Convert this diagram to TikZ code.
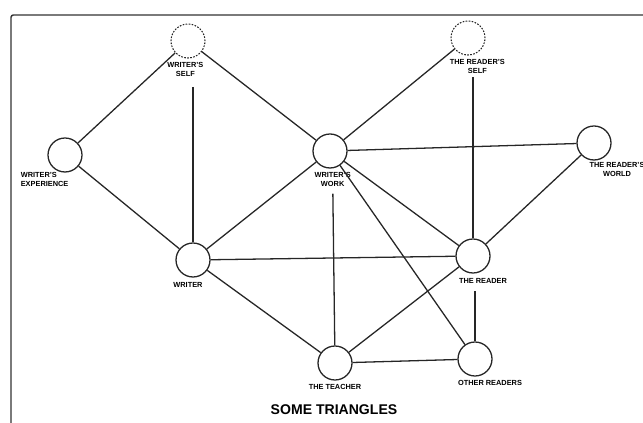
\documentclass[tikz,border=0pt]{standalone}
\usepackage{fontspec}
\setsansfont{Liberation Sans}
\usetikzlibrary{positioning}

\begin{document}
\begin{tikzpicture}[
  x=0.3mm, y=-0.3mm,
  font=\sffamily,
  spot/.style={draw=black!85, circle, line width=1.1pt, minimum size=10.2mm, inner sep=0pt},
  ghost/.style={spot, line width=0.9pt, dash pattern=on 1.4pt off 1.2pt},
  tag/.style={align=center, inner sep=0.5pt, font=\sffamily\bfseries\fontsize{6.3}{7.6}\selectfont},
  link/.style={line width=1.1pt, draw=black!85},
  frame/.style={line width=1.2pt, draw=black!80, rounded corners=2pt}
]
\useasboundingbox (0,0) rectangle (643,423);

% outer frame
\draw[frame] (11,423) |- (645,15);

% circles
\node[ghost] (ws) at (188,41) {};
\node[ghost] (rs) at (468,38) {};
\node[spot] (wx) at (65,155) {};
\node[spot] (wk) at (330,151) {};
\node[spot] (rw) at (594,143) {};
\node[spot] (wr) at (193,260) {};
\node[spot] (rd) at (473,256) {};
\node[spot] (tc) at (335,363) {};
\node[spot] (ot) at (475,359) {};

% labels
\node[tag, below=0.8mm of ws, xshift=-0.8mm] (wslbl) {WRITER'S\\SELF};
\node[tag, below=0.8mm of rs, xshift=2.8mm] (rslbl) {THE READER'S\\SELF};
\node[tag, align=left, anchor=north west] (wxlbl) at (20,172) {WRITER'S\\EXPERIENCE};
\node[tag, below=0.8mm of wk, xshift=0.8mm] (wklbl) {WRITER'S\\WORK};
\node[tag, below=0.2mm of rw, xshift=6.9mm] (rwlbl) {THE READER'S\\WORLD};
\node[tag, below=1.2mm of wr, xshift=-1.5mm] (wrlbl) {WRITER};
\node[tag, below=1.2mm of rd, xshift=3mm] (rdlbl) {THE READER};
\node[tag, below=0.8mm of tc] (tclbl) {THE TEACHER};
\node[tag, below=0.8mm of ot, xshift=4.5mm] (otlbl) {OTHER READERS};

\node[font=\sffamily\bfseries\fontsize{12}{14}\selectfont] (title) at (334,410) {SOME TRIANGLES};

% connectors
\draw[link] (wx) -- (ws);
\draw[link] (ws) -- (wk);
\draw[link] (wx) -- (wr);
\draw[link] (wr) -- (wk);
\draw[link] (wr) -- (rd);
\draw[link] (wr) -- (tc);
\draw[link] (wk) -- (rs);
\draw[link] (wk) -- (rw);
\draw[link] (wk) -- (rd);
\draw[link] (wk) -- (ot);
\draw[link] (rw) -- (rd);
\draw[link] (rd) -- (tc);
\draw[link] (tc) -- (ot);
\draw[link, shorten <=3mm] (wslbl.south -| wr.north) -- (wr);
\draw[link, shorten <=1mm] (rslbl.south -| rd.north) -- (rd);
\draw[link, shorten <=2mm] (wklbl) -- (tc);
\draw[link, shorten <=2mm] (rdlbl.south -| ot.north) -- (ot);

\end{tikzpicture}
\end{document}
